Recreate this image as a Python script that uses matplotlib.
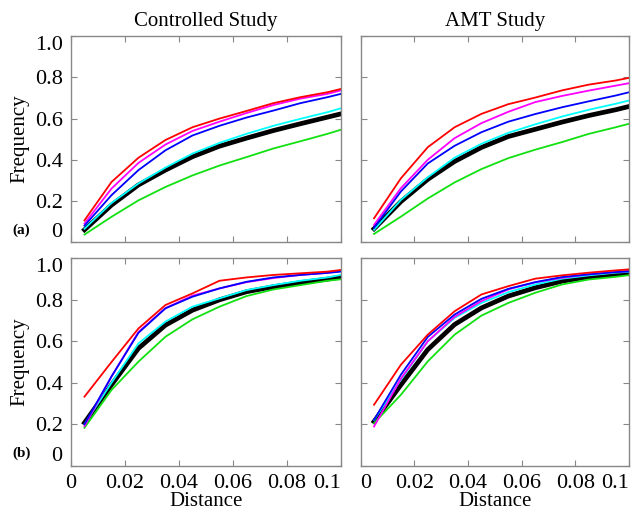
import matplotlib
matplotlib.use("Agg")
import matplotlib.pyplot as plt

plt.rcParams['font.family'] = ['Liberation Serif', 'DejaVu Serif']

# distance sample points
dist = [0.005, 0.015, 0.025, 0.035, 0.045, 0.055, 0.065, 0.075, 0.085, 0.095, 0.1]

# (a) Controlled study
ca_red = [0.106, 0.292, 0.410, 0.496, 0.558, 0.600, 0.637, 0.675, 0.704, 0.728, 0.744]
ca_mag = [0.090, 0.260, 0.385, 0.474, 0.540, 0.585, 0.627, 0.666, 0.697, 0.720, 0.737]
ca_blu = [0.080, 0.228, 0.350, 0.446, 0.518, 0.565, 0.605, 0.639, 0.675, 0.704, 0.720]
ca_cya = [0.065, 0.190, 0.285, 0.362, 0.430, 0.482, 0.526, 0.565, 0.599, 0.631, 0.650]
ca_blk = [0.060, 0.180, 0.278, 0.350, 0.415, 0.466, 0.505, 0.542, 0.575, 0.607, 0.623]
ca_grn = [0.037, 0.123, 0.203, 0.268, 0.324, 0.372, 0.413, 0.455, 0.490, 0.526, 0.546]

# (a) AMT study
aa_red = [0.116, 0.310, 0.461, 0.558, 0.623, 0.670, 0.702, 0.737, 0.765, 0.785, 0.798]
aa_mag = [0.084, 0.262, 0.400, 0.505, 0.578, 0.633, 0.680, 0.710, 0.736, 0.760, 0.772]
aa_blu = [0.070, 0.246, 0.382, 0.468, 0.534, 0.585, 0.622, 0.655, 0.684, 0.712, 0.728]
aa_cya = [0.060, 0.205, 0.315, 0.410, 0.478, 0.531, 0.572, 0.610, 0.643, 0.672, 0.688]
aa_blk = [0.065, 0.197, 0.305, 0.392, 0.460, 0.513, 0.548, 0.583, 0.615, 0.643, 0.659]
aa_grn = [0.040, 0.124, 0.212, 0.290, 0.355, 0.408, 0.449, 0.486, 0.526, 0.558, 0.575]

# (b) Controlled study
cb_red = [0.333, 0.500, 0.662, 0.775, 0.831, 0.892, 0.908, 0.920, 0.928, 0.936, 0.944]
cb_mag = [0.191, 0.430, 0.645, 0.760, 0.820, 0.855, 0.885, 0.905, 0.920, 0.930, 0.940]
cb_blu = [0.200, 0.430, 0.641, 0.759, 0.815, 0.855, 0.887, 0.908, 0.920, 0.930, 0.936]
cb_cya = [0.200, 0.400, 0.590, 0.695, 0.767, 0.807, 0.847, 0.871, 0.892, 0.908, 0.920]
cb_blk = [0.207, 0.390, 0.566, 0.678, 0.750, 0.800, 0.839, 0.863, 0.883, 0.900, 0.910]
cb_grn = [0.183, 0.365, 0.502, 0.622, 0.706, 0.767, 0.818, 0.850, 0.871, 0.892, 0.899]

# (b) AMT study
ab_red = [0.294, 0.487, 0.632, 0.745, 0.826, 0.866, 0.902, 0.918, 0.931, 0.942, 0.947]
ab_mag = [0.189, 0.420, 0.600, 0.718, 0.794, 0.850, 0.885, 0.906, 0.923, 0.934, 0.939]
ab_blu = [0.221, 0.439, 0.621, 0.729, 0.805, 0.853, 0.885, 0.910, 0.923, 0.934, 0.937]
ab_cya = [0.220, 0.415, 0.600, 0.713, 0.785, 0.837, 0.874, 0.902, 0.918, 0.931, 0.935]
ab_blk = [0.213, 0.390, 0.560, 0.681, 0.761, 0.818, 0.858, 0.890, 0.911, 0.923, 0.931]
ab_grn = [0.205, 0.342, 0.503, 0.632, 0.724, 0.785, 0.834, 0.874, 0.898, 0.911, 0.919]

xticks = [0, 0.02, 0.04, 0.06, 0.08, 0.1]
xlabels = ['0', '0.02', '0.04', '0.06', '0.08', '0.1']
yticks = [0, 0.2, 0.4, 0.6, 0.8, 1.0]
ylabels = ['0', '0.2', '0.4', '0.6', '0.8', '1.0']

panels = [
    [ca_blk, ca_grn, ca_cya, ca_mag, ca_blu, ca_red],
    [aa_blk, aa_grn, aa_cya, aa_mag, aa_blu, aa_red],
    [cb_blk, cb_grn, cb_cya, cb_mag, cb_blu, cb_red],
    [ab_blk, ab_grn, ab_cya, ab_mag, ab_blu, ab_red],
]
colors = ['black', '#11e011', 'cyan', 'magenta', 'blue', 'red']
widths = [3.4, 1.3, 1.3, 1.3, 1.3, 1.3]

fig = plt.figure(figsize=(6.36, 5.12), dpi=100)
rects = [
    [0.1116, 0.527, 0.4245, 0.4023],
    [0.567, 0.527, 0.4223, 0.4023],
    [0.1116, 0.0904, 0.4245, 0.405],
    [0.567, 0.0904, 0.4223, 0.405],
]
gray = '#888888'

for i, r in enumerate(rects):
    ax = fig.add_axes(r)
    for ys, c, lw in zip(panels[i], colors, widths):
        ax.plot(dist, ys, color=c, lw=lw)
    ax.set_xlim(0, 0.1)
    ax.set_ylim(0, 1.0)
    for s in ax.spines.values():
        s.set_color(gray)
        s.set_linewidth(1.0)
    ax.tick_params(direction='in', length=4, color=gray, top=True, right=True,
                   labelsize=16, pad=6)
    ax.set_xticks(xticks)
    ax.set_yticks(yticks)
    top = i < 2
    left = i % 2 == 0
    if top:
        ax.set_xticklabels([])
        ax.set_title(['Controlled Study', 'AMT Study'][i], fontsize=15, pad=7)
    else:
        ax.set_xticklabels(xlabels)
        ax.set_xlabel('Distance', fontsize=15)
        ax.xaxis.set_label_coords(0.5, -0.128)
        tl = ax.get_xticklabels()
        tl[-1].set_ha('right')
        if not left:
            tl[0].set_ha('left')
    if left:
        ax.set_yticklabels(ylabels)
        ax.set_ylabel('Frequency', fontsize=15, labelpad=4)
        yl = ax.get_yticklabels()
        yl[0].set_va('bottom')
        yl[-1].set_va('top')
    else:
        ax.set_yticklabels([])

fig.text(12 / 636, 1 - 230 / 512, '(a)', fontsize=11, fontweight='bold', va='center')
fig.text(12 / 636, 1 - 453 / 512, '(b)', fontsize=11, fontweight='bold', va='center')

fig.savefig('out.png', dpi=100)
